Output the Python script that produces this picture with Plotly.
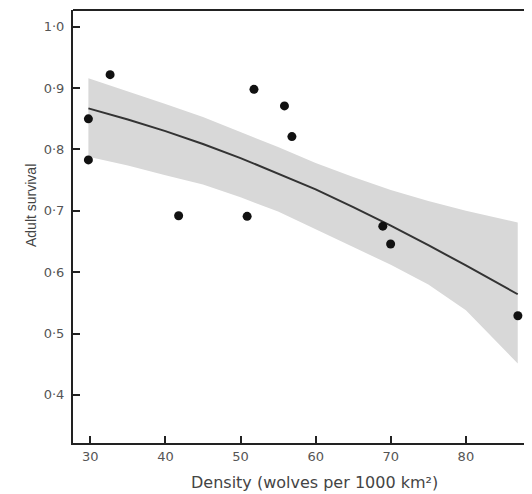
import plotly.graph_objects as go

# Observed data points (density, adult survival)
density = [29.75, 29.75, 32.64, 41.76, 50.88, 51.79, 55.85, 56.84, 68.94, 69.98, 86.92]
survival = [0.850, 0.783, 0.922, 0.692, 0.691, 0.898, 0.871, 0.821, 0.675, 0.646, 0.529]

# Fitted curve and confidence band
fit_x = [29.75, 35, 40, 45, 50, 55, 60, 65, 70, 75, 80, 86.9]
fit_y = [0.867, 0.849, 0.830, 0.809, 0.786, 0.761, 0.735, 0.706, 0.676, 0.644, 0.611, 0.564]
band_upper = [0.916, 0.895, 0.874, 0.853, 0.829, 0.804, 0.778, 0.755, 0.734, 0.716, 0.700, 0.681]
band_lower = [0.788, 0.774, 0.758, 0.743, 0.722, 0.699, 0.670, 0.641, 0.612, 0.580, 0.538, 0.451]

x_ticks = [30, 40, 50, 60, 70, 80]
y_ticks = [0.4, 0.5, 0.6, 0.7, 0.8, 0.9, 1.0]
y_ticktext = ["0·4", "0·5", "0·6", "0·7", "0·8", "0·9", "1·0"]

x_title = "Density (wolves per 1000 km²)"
y_title = "Adult survival"

FONT = "DejaVu Sans, Liberation Sans, Arial, sans-serif"
AX = "#222222"

fig = go.Figure()
fig.add_trace(go.Scatter(
    x=fit_x + fit_x[::-1], y=band_upper + band_lower[::-1],
    fill="toself", fillcolor="#d8d8d8", line=dict(width=0),
    mode="lines", hoverinfo="skip", showlegend=False))
fig.add_trace(go.Scatter(
    x=fit_x, y=fit_y, mode="lines",
    line=dict(color="#333333", width=2), showlegend=False))
fig.add_trace(go.Scatter(
    x=density, y=survival, mode="markers",
    marker=dict(color="#111111", size=9), showlegend=False))

# The page body adds an 8px offset; the figure is sized so the plot frame
# lands where the reference has it.
fig.update_layout(
    width=524, height=486,
    margin=dict(l=65, r=0, t=2, b=51),
    paper_bgcolor="white", plot_bgcolor="white",
    font=dict(family=FONT, color="#555555"),
    xaxis=dict(range=[27.7, 88.8], tickvals=x_ticks, ticks="inside",
               ticklen=7, tickwidth=2, tickcolor=AX, showline=True,
               linewidth=2, linecolor=AX, showgrid=False, zeroline=False,
               tickfont=dict(size=13, color="#555555")),
    yaxis=dict(range=[0.3215, 1.0274], tickvals=y_ticks, ticktext=y_ticktext,
               ticks="inside", ticklen=7, tickwidth=2, tickcolor=AX,
               showline=True, linewidth=2, linecolor=AX, showgrid=False,
               zeroline=False, ticklabelstandoff=4,
               tickfont=dict(size=13, color="#555555")),
    shapes=[dict(type="line", xref="paper", yref="paper", x0=0, x1=1,
                 y0=1, y1=1, line=dict(color=AX, width=2))],
    annotations=[
        dict(text=x_title, xref="x", yref="paper", x=59.8, y=-0.092,
             xanchor="center", yanchor="middle", showarrow=False,
             font=dict(size=16, color="#444444")),
        dict(text=y_title, xref="paper", yref="y", x=-0.09, y=0.709,
             xanchor="center", yanchor="middle", textangle=-90,
             showarrow=False,
             font=dict(size=14, color="#444444",
                       family="Liberation Sans, Arial, sans-serif")),
    ],
)

fig.write_html("out.html")
